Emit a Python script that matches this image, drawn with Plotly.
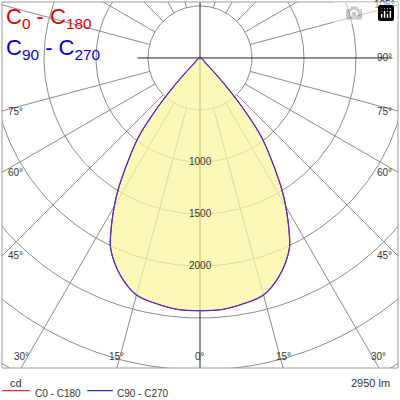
import numpy as np
import plotly.graph_objects as go

# Luminous intensity (cd) vs gamma angle (deg)
angles = [0, 5, 10, 15, 20, 25, 27, 30, 32, 35, 38, 40, 42, 44, 46, 48]
c0_c180 = [2430, 2428, 2400, 2360, 2230, 2030, 1890, 1650, 1480, 1200, 950, 700, 450, 250, 100, 0]
c90_c270 = [2430, 2428, 2400, 2360, 2230, 2030, 1890, 1650, 1480, 1200, 950, 700, 450, 250, 100, 0]
ring_values = [500, 1000, 1500, 2000, 2500, 3000, 3500, 4000]
ring_labels = [1000, 1500, 2000]
angle_labels = [-30, -15, 0, 15, 30, 45, 60, 75, 90, 105]
flux_text = "2950 lm"
unit_text = "cd"

XR = [-1904, 1904]
YR = [-2981, 538]

def curve(vals):
    a = np.radians(np.array([-x for x in angles[::-1]] + angles[1:]))
    v = np.array(vals[::-1] + vals[1:])
    return v * np.sin(a), -v * np.cos(a)

fig = go.Figure()
grid = "#8a8a8a"
th = np.linspace(0, 2 * np.pi, 361)
for rv in ring_values:
    fig.add_trace(go.Scatter(x=rv * np.sin(th), y=rv * np.cos(th), mode="lines",
                             line=dict(color=grid, width=1), hoverinfo="skip"))
for a in range(-180, 181, 15):
    if a in (0, 90, -90, 180, -180):
        continue
    ar = np.radians(a)
    fig.add_trace(go.Scatter(x=[500 * np.sin(ar), 5000 * np.sin(ar)],
                             y=[-500 * np.cos(ar), -5000 * np.cos(ar)], mode="lines",
                             line=dict(color=grid, width=1), hoverinfo="skip"))
fig.add_trace(go.Scatter(x=[0, 0], y=[YR[1], YR[0]], mode="lines", line=dict(color="#222", width=1)))
fig.add_trace(go.Scatter(x=[-600, 1850], y=[0, 0], mode="lines", line=dict(color="#222", width=1)))

x1, y1 = curve(c0_c180)
fig.add_trace(go.Scatter(x=x1, y=y1, mode="lines", fill="toself", fillcolor="rgba(252,246,160,0.75)",
                         line=dict(color="#dd0000", width=1, shape="spline", smoothing=1)))
x2, y2 = curve(c90_c270)
fig.add_trace(go.Scatter(x=x2, y=y2, mode="lines",
                         line=dict(color="#4b2fd0", width=1.2, shape="spline", smoothing=1)))

anns = []
for v in ring_labels:
    anns.append(dict(x=0, y=-v, text=str(v), showarrow=False, font=dict(size=10, color="#333")))
for a in angle_labels:
    ar = np.radians(a)
    dx, dy = np.sin(ar), -np.cos(ar)
    ts = []
    if dx > 1e-9: ts.append(XR[1] / dx)
    if dx < -1e-9: ts.append(XR[0] / dx)
    if dy > 1e-9: ts.append(YR[1] / dy)
    if dy < -1e-9: ts.append(YR[0] / dy)
    t = min(ts)
    px, py = t * dx, t * dy
    if abs(px - XR[1]) < 1:
        px -= 130
    elif abs(px - XR[0]) < 1:
        px += 130
    else:
        py += 100
    if abs(a) < 45:
        py = YR[0] + 110
    if a >= 45:
        anns.append(dict(x=-px, y=py, text=f"{a}°", showarrow=False, font=dict(size=10, color="#333")))
    if a == 105 or a == 90:
        anns[-1]["x"] = px
        continue
    anns.append(dict(x=px, y=py, text=f"{abs(a)}°", showarrow=False, font=dict(size=10, color="#333")))

anns += [
    dict(xref="paper", yref="paper", x=0.005, y=1.0, xanchor="left", yanchor="top", showarrow=False,
         text="C<sub>0</sub> - C<sub>180</sub>", font=dict(size=22, color="#e00000")),
    dict(xref="paper", yref="paper", x=0.005, y=0.915, xanchor="left", yanchor="top", showarrow=False,
         text="C<sub>90</sub> - C<sub>270</sub>", font=dict(size=22, color="#0000dd")),
    dict(xref="paper", yref="paper", x=0.0, y=-0.02, xanchor="left", yanchor="top", showarrow=False,
         text=unit_text, font=dict(size=11, color="#333"), xshift=6),
    dict(xref="paper", yref="paper", x=1.0, y=-0.02, xanchor="right", yanchor="top", showarrow=False,
         text=flux_text, font=dict(size=11, color="#333"), xshift=-6),
    dict(xref="paper", yref="paper", x=0.078, y=-0.05, xanchor="left", yanchor="top", showarrow=False,
         text="C0 - C180", font=dict(size=10, color="#333")),
    dict(xref="paper", yref="paper", x=0.285, y=-0.05, xanchor="left", yanchor="top", showarrow=False,
         text="C90 - C270", font=dict(size=10, color="#333")),
]
shapes = [
    dict(type="rect", xref="paper", yref="paper", x0=0, y0=0, x1=1, y1=1, line=dict(color="#999", width=1)),
    dict(type="line", xref="paper", yref="paper", x0=0.0, x1=0.07, y0=-0.062, y1=-0.062, line=dict(color="#dd0000", width=1)),
    dict(type="line", xref="paper", yref="paper", x0=0.215, x1=0.28, y0=-0.062, y1=-0.062, line=dict(color="#0000aa", width=1)),
]
fig.update_layout(width=400, height=400, margin=dict(l=2, r=2, t=2, b=32), showlegend=False,
                  plot_bgcolor="white", paper_bgcolor="white", annotations=anns, shapes=shapes,
                  font=dict(family="Liberation Sans"),
                  xaxis=dict(range=XR, visible=False, fixedrange=True),
                  yaxis=dict(range=YR, visible=False, fixedrange=True))
fig.write_html("out.html", post_script="document.body.style.margin='0';document.body.style.overflow='hidden';")
